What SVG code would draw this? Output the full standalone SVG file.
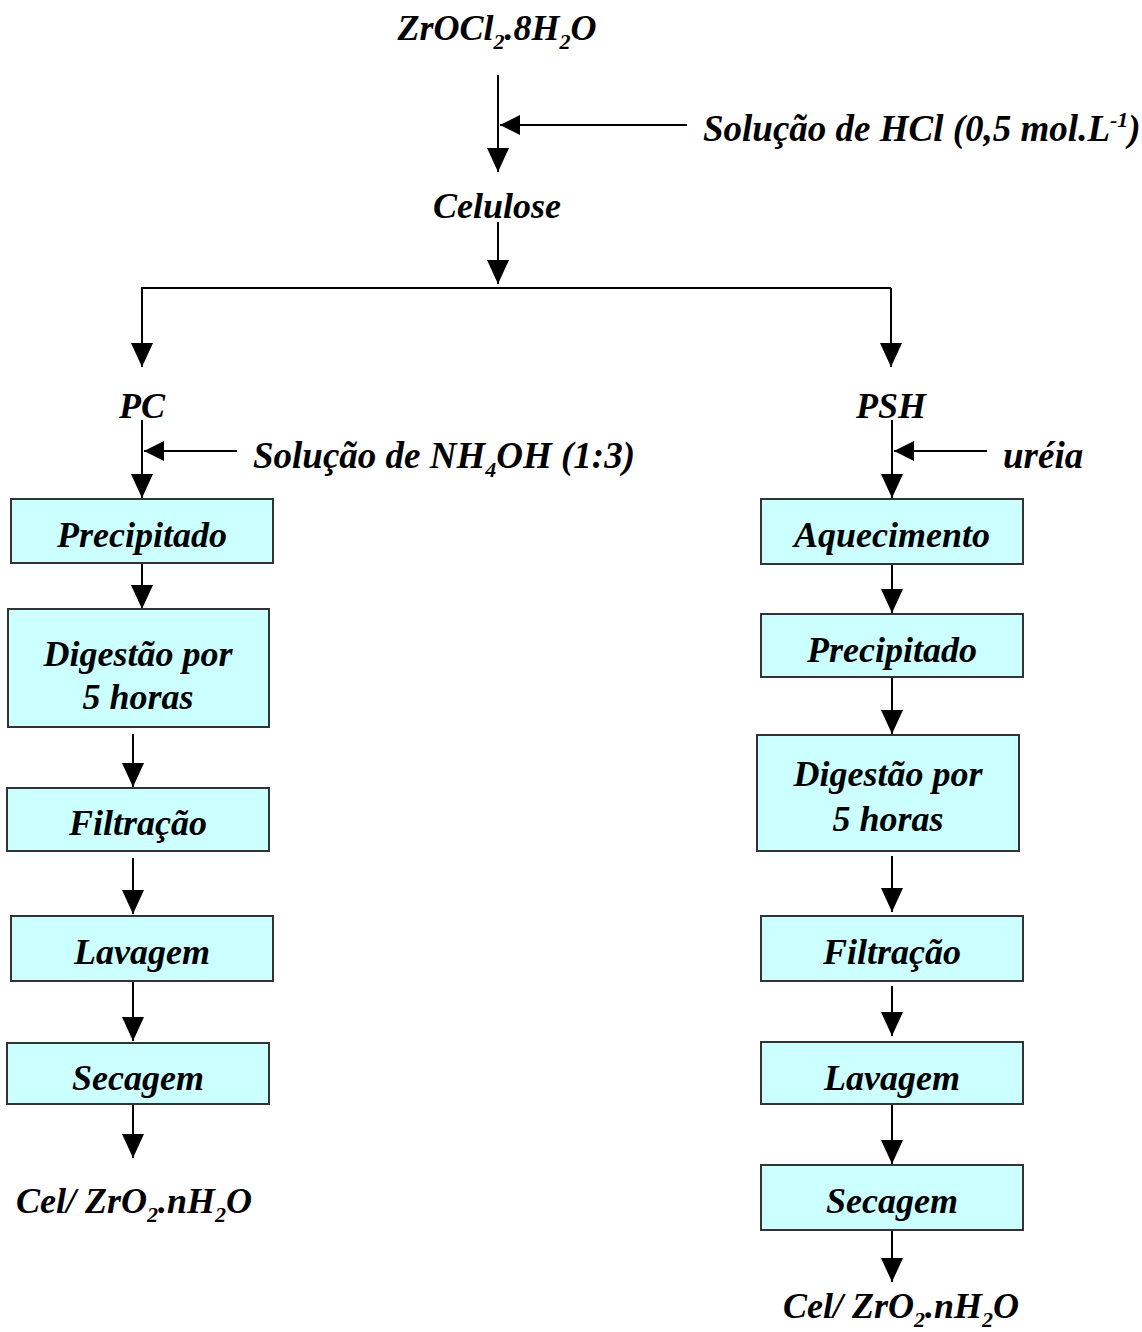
<svg xmlns="http://www.w3.org/2000/svg" width="1142" height="1332" viewBox="0 0 1142 1332">
<style>
text{font-family:"Liberation Serif","Times New Roman",serif;font-weight:bold;font-style:italic;font-size:36px;fill:#000}
.c{text-anchor:middle}
.big{font-size:37px}
.sub{font-size:22px}
.box{fill:#ccffff;stroke:#333;stroke-width:2}
.ln{fill:none;stroke:#000;stroke-width:2}
</style>
<defs>
<marker id="arr" viewBox="0 0 24 22" refX="24" refY="11" markerWidth="24" markerHeight="22" markerUnits="userSpaceOnUse" orient="auto"><path d="M0,0 L24,11 L0,22 Z" fill="#000"/></marker>
<marker id="arrs" viewBox="0 0 20 20" refX="20" refY="10" markerWidth="20" markerHeight="20" markerUnits="userSpaceOnUse" orient="auto"><path d="M0,0 L20,10 L0,20 Z" fill="#000"/></marker>
</defs>
<rect width="1142" height="1332" fill="#fff"/>
<g id="connectors">
<path class="ln" d="M498,75 V172" marker-end="url(#arr)"/>
<path class="ln" d="M687,125 H500" marker-end="url(#arrs)"/>
<path class="ln" d="M498,222 V284" marker-end="url(#arr)"/>
<path class="ln" d="M498,288 H891"/>
<path class="ln" d="M498,288 H142 V367" marker-end="url(#arr)"/>
<path class="ln" d="M891,288 V367" marker-end="url(#arr)"/>
<path class="ln" d="M142,420 V498" marker-end="url(#arr)"/>
<path class="ln" d="M237,451 H144" marker-end="url(#arrs)"/>
<path class="ln" d="M142,563 V609" marker-end="url(#arr)"/>
<path class="ln" d="M133,734 V787" marker-end="url(#arr)"/>
<path class="ln" d="M133,858 V914" marker-end="url(#arr)"/>
<path class="ln" d="M133,981 V1041" marker-end="url(#arr)"/>
<path class="ln" d="M133,1104 V1158" marker-end="url(#arr)"/>
<path class="ln" d="M892,420 V498" marker-end="url(#arr)"/>
<path class="ln" d="M987,451 H894" marker-end="url(#arrs)"/>
<path class="ln" d="M892,564 V613" marker-end="url(#arr)"/>
<path class="ln" d="M892,677 V734" marker-end="url(#arr)"/>
<path class="ln" d="M892,856 V912" marker-end="url(#arr)"/>
<path class="ln" d="M892,986 V1036" marker-end="url(#arr)"/>
<path class="ln" d="M892,1104 V1164" marker-end="url(#arr)"/>
<path class="ln" d="M892,1230 V1282" marker-end="url(#arr)"/>
</g>
<g id="zrocl2">
<text x="497" y="40" class="c">ZrOCl<tspan class="sub" dy="9">2</tspan><tspan dy="-9">.8H</tspan><tspan class="sub" dy="9">2</tspan><tspan dy="-9">O</tspan></text>
</g>
<g id="hcl">
<text x="703" y="141" class="big">Solução de HCl (0,5 mol.L<tspan class="sub" dy="-14">-1</tspan><tspan dy="14">)</tspan></text>
</g>
<g id="celulose"><text x="497" y="218" class="c">Celulose</text></g>
<g id="pc"><text x="142" y="418" class="c">PC</text></g>
<g id="nh4oh"><text x="253" y="468" class="big">Solução de NH<tspan class="sub" dy="9">4</tspan><tspan dy="-9">OH (1:3)</tspan></text></g>
<g id="psh"><text x="891" y="418" class="c">PSH</text></g>
<g id="ureia"><text x="1003" y="468" class="big">uréia</text></g>
<g id="l-precipitado"><rect class="box" x="11" y="499" width="262" height="64"/><text x="142" y="547" class="c">Precipitado</text></g>
<g id="l-digestao"><rect class="box" x="8" y="609" width="261" height="118"/><text x="138" y="666" class="c">Digestão por</text><text x="138" y="709" class="c">5 horas</text></g>
<g id="l-filtracao"><rect class="box" x="7" y="788" width="262" height="63"/><text x="138" y="835" class="c">Filtração</text></g>
<g id="l-lavagem"><rect class="box" x="11" y="916" width="262" height="65"/><text x="142" y="964" class="c">Lavagem</text></g>
<g id="l-secagem"><rect class="box" x="7" y="1043" width="262" height="61"/><text x="138" y="1090" class="c">Secagem</text></g>
<g id="l-final"><text x="134" y="1213" class="c">Cel/ ZrO<tspan class="sub" dy="9">2</tspan><tspan dy="-9">.nH</tspan><tspan class="sub" dy="9">2</tspan><tspan dy="-9">O</tspan></text></g>
<g id="r-aquecimento"><rect class="box" x="761" y="499" width="262" height="65"/><text x="892" y="547" class="c">Aquecimento</text></g>
<g id="r-precipitado"><rect class="box" x="761" y="614" width="262" height="63"/><text x="892" y="662" class="c">Precipitado</text></g>
<g id="r-digestao"><rect class="box" x="757" y="735" width="262" height="116"/><text x="888" y="786" class="c">Digestão por</text><text x="888" y="831" class="c">5 horas</text></g>
<g id="r-filtracao"><rect class="box" x="761" y="916" width="262" height="65"/><text x="892" y="964" class="c">Filtração</text></g>
<g id="r-lavagem"><rect class="box" x="761" y="1042" width="262" height="62"/><text x="892" y="1090" class="c">Lavagem</text></g>
<g id="r-secagem"><rect class="box" x="761" y="1165" width="262" height="65"/><text x="892" y="1213" class="c">Secagem</text></g>
<g id="r-final"><text x="901" y="1318" class="c">Cel/ ZrO<tspan class="sub" dy="9">2</tspan><tspan dy="-9">.nH</tspan><tspan class="sub" dy="9">2</tspan><tspan dy="-9">O</tspan></text></g>
</svg>
